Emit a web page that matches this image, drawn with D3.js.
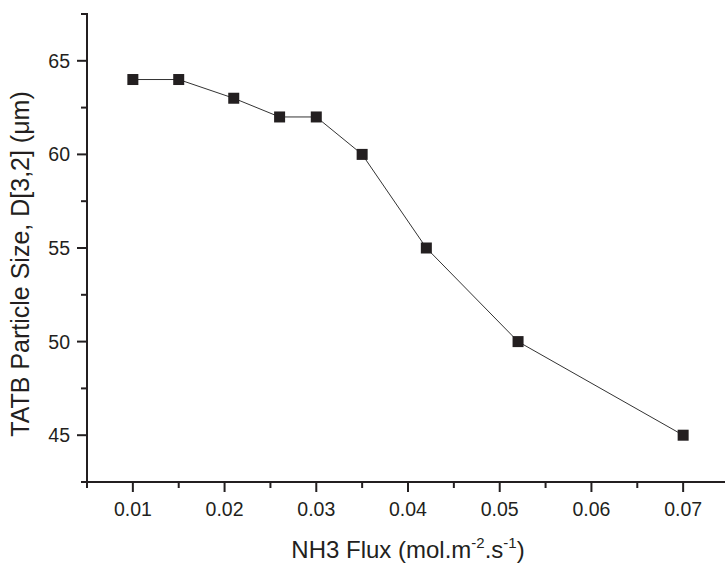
<!DOCTYPE html>
<html>
<head>
<meta charset="utf-8">
<script src="https://cdn.jsdelivr.net/npm/d3@7"></script>
<style>
  body { margin: 0; background: #fff; }
  svg { display: block; }
  text { font-family: "Liberation Sans", Arial, sans-serif; fill: #231f20; }
</style>
</head>
<body>
<div id="chart"></div>
<script>
// NH3 flux vs particle size
var flux = [0.010, 0.015, 0.021, 0.026, 0.030, 0.035, 0.042, 0.052, 0.070];
var sizeD32 = [64, 64, 63, 62, 62, 60, 55, 50, 45];
var xMajorTicks = [0.01, 0.02, 0.03, 0.04, 0.05, 0.06, 0.07];
var xMinorTicks = [0.005, 0.015, 0.025, 0.035, 0.045, 0.055, 0.065, 0.075];
var yMajorTicks = [45, 50, 55, 60, 65];
var yMinorTicks = [42.5, 47.5, 52.5, 57.5, 62.5, 67.5];

var width = 725, height = 564;
var x = d3.scaleLinear().domain([0.005, 0.075]).range([87, 729]);
var y = d3.scaleLinear().domain([42.5, 67.5]).range([482, 14]);
var ink = "#231f20";

var svg = d3.select("#chart").append("svg")
  .attr("width", width).attr("height", height);

// x axis
var xg = svg.append("g").attr("transform", "translate(0," + y(42.5) + ")");
xg.append("line").attr("x1", x(0.005) - 1).attr("x2", width).attr("stroke", ink).attr("stroke-width", 2);
xg.selectAll(".maj").data(xMajorTicks).enter().append("line")
  .attr("x1", d => x(d)).attr("x2", d => x(d)).attr("y1", 0).attr("y2", 10)
  .attr("stroke", ink).attr("stroke-width", 2);
xg.selectAll(".min").data(xMinorTicks).enter().append("line")
  .attr("x1", d => x(d)).attr("x2", d => x(d)).attr("y1", 0).attr("y2", 6)
  .attr("stroke", ink).attr("stroke-width", 2);
xg.selectAll(".lab").data(xMajorTicks).enter().append("text")
  .attr("x", d => x(d)).attr("y", 34).attr("text-anchor", "middle")
  .style("font-size", "19.5px").text(d3.format(".2f"));

// y axis
var yg = svg.append("g").attr("transform", "translate(" + x(0.005) + ",0)");
yg.append("line").attr("y1", y(67.5) - 1).attr("y2", y(42.5) + 1).attr("stroke", ink).attr("stroke-width", 2);
yg.selectAll(".maj").data(yMajorTicks).enter().append("line")
  .attr("y1", d => y(d)).attr("y2", d => y(d)).attr("x1", 0).attr("x2", -10)
  .attr("stroke", ink).attr("stroke-width", 2);
yg.selectAll(".min").data(yMinorTicks).enter().append("line")
  .attr("y1", d => y(d)).attr("y2", d => y(d)).attr("x1", 0).attr("x2", -6)
  .attr("stroke", ink).attr("stroke-width", 2);
yg.selectAll(".lab").data(yMajorTicks).enter().append("text")
  .attr("x", -17).attr("y", d => y(d)).attr("dy", "0.36em").attr("text-anchor", "end")
  .style("font-size", "19.5px").text(d => d);

// line + markers
var pts = flux.map((f, i) => [f, sizeD32[i]]);
svg.append("path").datum(pts)
  .attr("fill", "none").attr("stroke", "#333").attr("stroke-width", 1)
  .attr("d", d3.line().x(d => x(d[0])).y(d => y(d[1])));
svg.selectAll(".pt").data(pts).enter().append("rect")
  .attr("x", d => x(d[0]) - 5.5).attr("y", d => y(d[1]) - 5.5)
  .attr("width", 11).attr("height", 11).attr("fill", ink);

// axis titles
var xt = svg.append("text").attr("x", 408).attr("y", 558).attr("text-anchor", "middle")
  .style("font-size", "24px");
xt.append("tspan").text("NH3 Flux (mol.m");
xt.append("tspan").attr("dy", -10).style("font-size", "15px").text("-2");
xt.append("tspan").attr("dy", 10).text(".s");
xt.append("tspan").attr("dy", -10).style("font-size", "15px").text("-1");
xt.append("tspan").attr("dy", 10).text(")");

svg.append("text")
  .attr("transform", "translate(29,264) rotate(-90)")
  .attr("text-anchor", "middle").style("font-size", "25px")
  .text("TATB Particle Size, D[3,2] (\u03bcm)");
</script>
</body>
</html>
